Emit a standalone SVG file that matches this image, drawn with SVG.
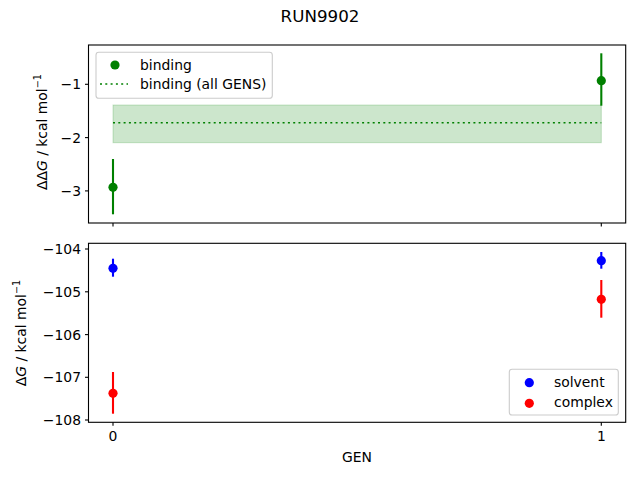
<svg xmlns="http://www.w3.org/2000/svg" width="640" height="480" viewBox="0 0 640 480">
<style>
text{font-family:"DejaVu Sans",sans-serif;fill:#000;font-size:13.9px}
.ax{fill:none;stroke:#000;stroke-width:1.1}
.tk{stroke:#000;stroke-width:1.1}
.yl{text-anchor:end}
.xl{text-anchor:middle}
.eg{stroke:#008000;stroke-width:2.1}
.eb{stroke:#0000ff;stroke-width:2.1}
.er{stroke:#ff0000;stroke-width:2.1}
.leg{fill:#fff;fill-opacity:0.8;stroke:#ccc;stroke-width:1.1}
</style>
<rect width="640" height="480" fill="#fff"/>
<text x="320" y="22" text-anchor="middle" style="font-size:16.7px">RUN9902</text>

<g id="top-axes">
<rect x="113" y="105" width="488.3" height="37.7" fill="#008000" fill-opacity="0.2" stroke="#008000" stroke-opacity="0.2"/>
<line x1="113" y1="122.7" x2="601.3" y2="122.7" stroke="#008000" stroke-width="1.6" stroke-dasharray="2,3.3"/>
<rect class="ax" x="88.5" y="45" width="537.2" height="178"/>
<g class="tk">
<line x1="85" y1="84.3" x2="88.5" y2="84.3"/>
<line x1="85" y1="137.6" x2="88.5" y2="137.6"/>
<line x1="85" y1="190.9" x2="88.5" y2="190.9"/>
<line x1="113" y1="223" x2="113" y2="226.5"/>
<line x1="601.3" y1="223" x2="601.3" y2="226.5"/>
</g>
<text class="yl" x="81" y="89.3">−1</text>
<text class="yl" x="81" y="142.6">−2</text>
<text class="yl" x="81" y="195.9">−3</text>
<text transform="translate(47,132) rotate(-90)" text-anchor="middle">ΔΔ<tspan font-style="italic">G</tspan> / kcal mol<tspan dy="-6" style="font-size:9.7px">−1</tspan></text>
</g>

<g id="binding-points">
<line class="eg" x1="113" y1="159" x2="113" y2="214.3"/>
<circle cx="113" cy="187.3" r="4.6" fill="#008000"/>
<line class="eg" x1="601.3" y1="53.3" x2="601.3" y2="105.7"/>
<circle cx="601.3" cy="80.7" r="4.6" fill="#008000"/>
</g>

<g id="top-legend">
<rect class="leg" x="96" y="52.3" width="176.3" height="46" rx="2.8"/>
<circle cx="115" cy="65" r="4.6" fill="#008000"/>
<text x="140" y="69.5">binding</text>
<line x1="100" y1="84" x2="128" y2="84" stroke="#008000" stroke-width="1.6" stroke-dasharray="2,3.3"/>
<text x="140" y="89">binding (all GENS)</text>
</g>

<g id="bottom-axes">
<rect class="ax" x="88.5" y="243.3" width="537.2" height="179"/>
<g class="tk">
<line x1="85" y1="249" x2="88.5" y2="249"/>
<line x1="85" y1="291.8" x2="88.5" y2="291.8"/>
<line x1="85" y1="334.6" x2="88.5" y2="334.6"/>
<line x1="85" y1="377.3" x2="88.5" y2="377.3"/>
<line x1="85" y1="420" x2="88.5" y2="420"/>
<line x1="113" y1="422.3" x2="113" y2="425.8"/>
<line x1="601.3" y1="422.3" x2="601.3" y2="425.8"/>
</g>
<text class="yl" x="81" y="254">−104</text>
<text class="yl" x="81" y="296.8">−105</text>
<text class="yl" x="81" y="339.6">−106</text>
<text class="yl" x="81" y="382.3">−107</text>
<text class="yl" x="81" y="425">−108</text>
<text class="xl" x="113" y="441">0</text>
<text class="xl" x="601.3" y="441">1</text>
<text class="xl" x="357" y="462">GEN</text>
<text transform="translate(26,333) rotate(-90)" text-anchor="middle">Δ<tspan font-style="italic">G</tspan> / kcal mol<tspan dy="-6" style="font-size:9.7px">−1</tspan></text>
</g>

<g id="solvent-points">
<line class="eb" x1="113" y1="258.7" x2="113" y2="276.7"/>
<circle cx="113" cy="268.3" r="4.6" fill="#0000ff"/>
<line class="eb" x1="601.3" y1="252" x2="601.3" y2="268.7"/>
<circle cx="601.3" cy="260.7" r="4.6" fill="#0000ff"/>
</g>

<g id="complex-points">
<line class="er" x1="113" y1="372" x2="113" y2="413.7"/>
<circle cx="113" cy="393.3" r="4.6" fill="#ff0000"/>
<line class="er" x1="601.3" y1="280" x2="601.3" y2="317.7"/>
<circle cx="601.3" cy="299.3" r="4.6" fill="#ff0000"/>
</g>

<g id="bottom-legend">
<rect class="leg" x="509.3" y="369.3" width="109" height="45.7" rx="2.8"/>
<circle cx="529.3" cy="382.7" r="4.6" fill="#0000ff"/>
<text x="554" y="386.5">solvent</text>
<circle cx="529.3" cy="403.3" r="4.6" fill="#ff0000"/>
<text x="554" y="407">complex</text>
</g>
</svg>
